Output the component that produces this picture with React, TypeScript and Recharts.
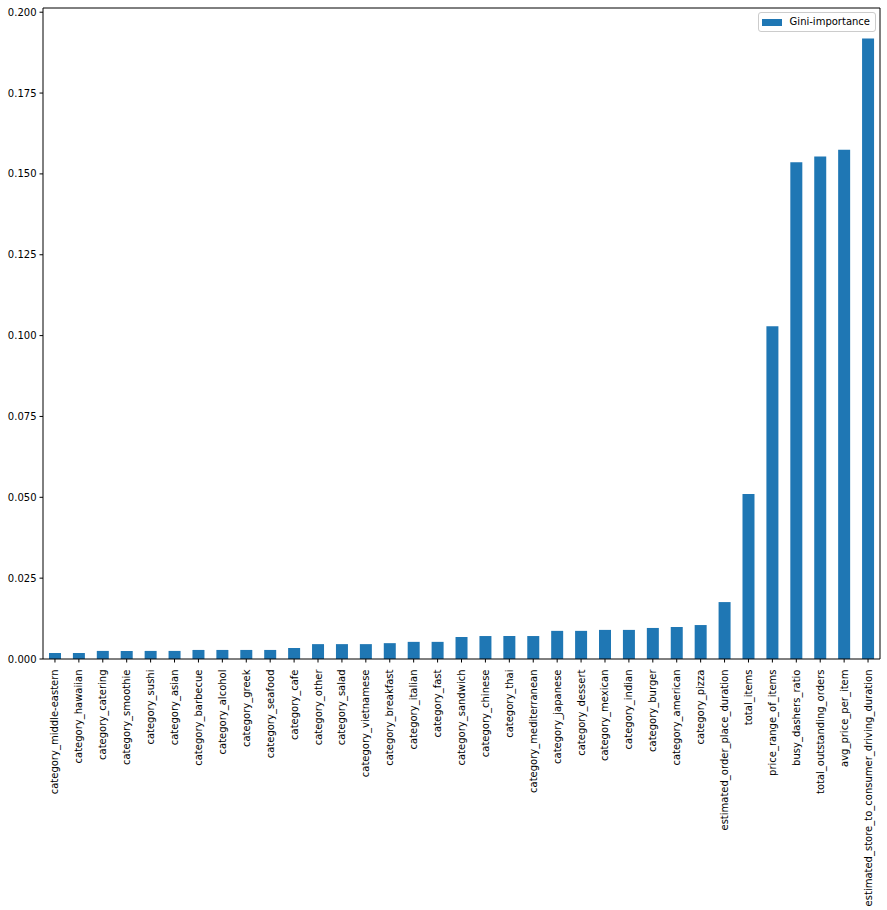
import { BarChart, Bar, XAxis, YAxis, Legend, CartesianGrid } from 'recharts';

const features = [
  'category_middle-eastern',
  'category_hawaiian',
  'category_catering',
  'category_smoothie',
  'category_sushi',
  'category_asian',
  'category_barbecue',
  'category_alcohol',
  'category_greek',
  'category_seafood',
  'category_cafe',
  'category_other',
  'category_salad',
  'category_vietnamese',
  'category_breakfast',
  'category_italian',
  'category_fast',
  'category_sandwich',
  'category_chinese',
  'category_thai',
  'category_mediterranean',
  'category_japanese',
  'category_dessert',
  'category_mexican',
  'category_indian',
  'category_burger',
  'category_american',
  'category_pizza',
  'estimated_order_place_duration',
  'total_items',
  'price_range_of_items',
  'busy_dashers_ratio',
  'total_outstanding_orders',
  'avg_price_per_item',
  'estimated_store_to_consumer_driving_duration',
];

const giniImportance = [
  0.00185, 0.00185, 0.0025, 0.0025, 0.0025, 0.0025, 0.0028, 0.0028, 0.0028, 0.0028,
  0.0034, 0.0046, 0.0046, 0.0046, 0.0049, 0.0053, 0.0053, 0.0068, 0.0071, 0.0071,
  0.0071, 0.0087, 0.0087, 0.009, 0.009, 0.0096, 0.0099, 0.0105, 0.0176, 0.051,
  0.1029, 0.1536, 0.1554, 0.1575, 0.1919,
];

const yTicks = [0, 0.025, 0.05, 0.075, 0.1, 0.125, 0.15, 0.175, 0.2];

const data = features.map((name, i) => ({ name, value: giniImportance[i] }));

const FONT = '"DejaVu Sans", sans-serif';
const BLUE = '#1f77b4';

function XTick({ x, y, payload }: any) {
  return (
    <g transform={`translate(${x},${y})`}>
      <text
        transform="rotate(-90)"
        x={-5}
        y={0}
        dy="0.35em"
        textAnchor="end"
        fontSize={10}
        fontFamily={FONT}
        fill="#000"
      >
        {payload.value}
      </text>
    </g>
  );
}

// zero-height wrapper so the legend does not take space from the plot
function LegendBox() {
  return (
    <div style={{ position: 'relative', height: 0 }}>
      <div
        style={{
          position: 'absolute',
          right: 4,
          top: 4,
          display: 'flex',
          alignItems: 'center',
          border: '1px solid #cccccc',
          borderRadius: 3,
          background: 'rgba(255,255,255,0.8)',
          padding: '3px 5px 3px 3px',
          fontFamily: FONT,
          fontSize: 10,
          lineHeight: '12px',
          color: '#000',
          whiteSpace: 'nowrap',
        }}
      >
        <span style={{ display: 'inline-block', width: 20, height: 7, background: BLUE, marginRight: 8 }} />
        Gini-importance
      </div>
    </div>
  );
}

export default function App() {
  return (
    <div style={{ position: 'absolute', left: 0, top: 0, background: '#fff' }}>
      <BarChart
        width={887}
        height={910}
        data={data}
        margin={{ top: 8, right: 7, left: 0, bottom: 0 }}
        barCategoryGap="25%"
      >
        <CartesianGrid
          stroke="#000"
          horizontalCoordinatesGenerator={({ offset }: any) => [offset.top]}
          verticalCoordinatesGenerator={({ offset }: any) => [offset.left + offset.width]}
        />
        <XAxis
          dataKey="name"
          interval={0}
          height={251}
          tick={<XTick />}
          tickSize={3.5}
          tickLine={{ stroke: '#000' }}
          axisLine={{ stroke: '#000' }}
        />
        <YAxis
          width={43}
          domain={[0, 0.2013]}
          ticks={yTicks}
          allowDataOverflow
          tickFormatter={(v) => v.toFixed(3)}
          tick={{ fontSize: 10, fontFamily: FONT, fill: '#000' }}
          tickSize={3.5}
          tickMargin={3}
          tickLine={{ stroke: '#000' }}
          axisLine={{ stroke: '#000' }}
        />
        <Legend verticalAlign="top" align="right" content={() => <LegendBox />} />
        <Bar dataKey="value" name="Gini-importance" fill={BLUE} isAnimationActive={false} />
      </BarChart>
    </div>
  );
}
